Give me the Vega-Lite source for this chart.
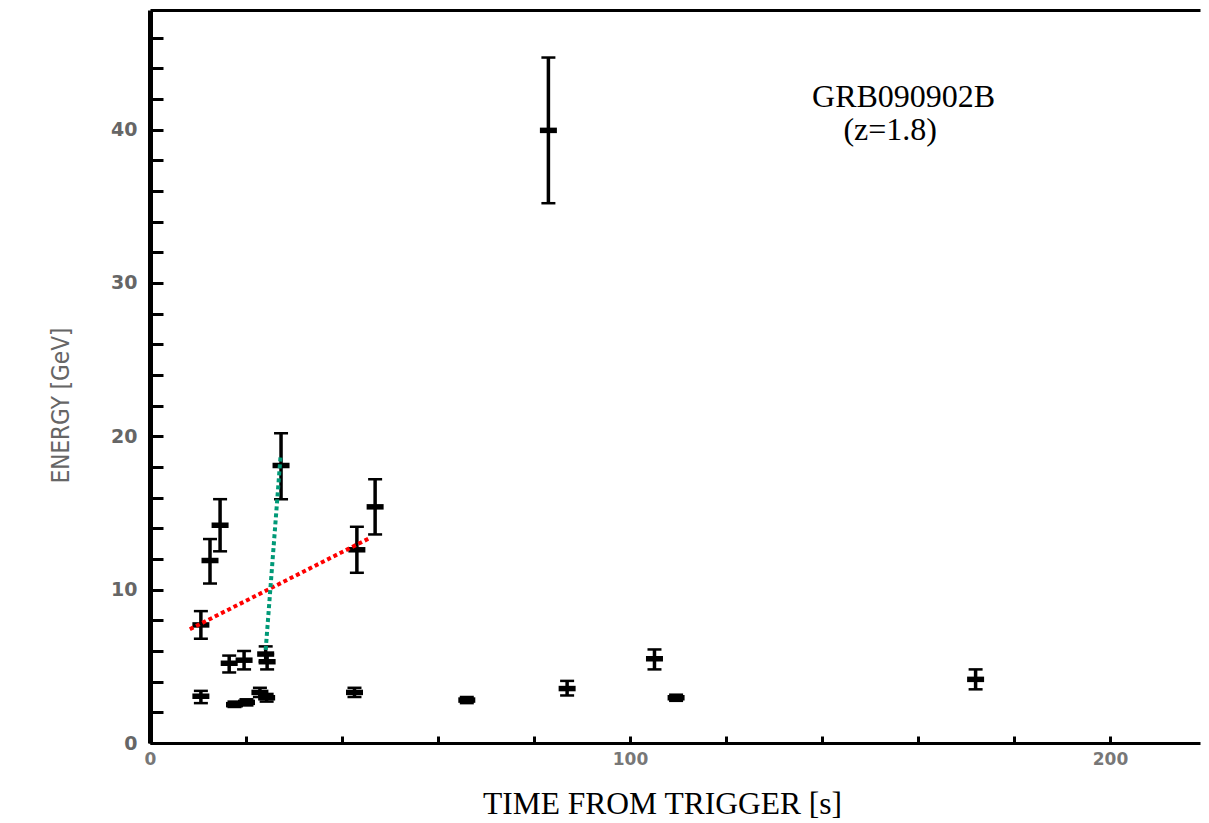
{
  "$schema": "https://vega.github.io/schema/vega-lite/v6.json",
  "width": 1050,
  "height": 733,
  "autosize": "none",
  "padding": {"left": 150, "top": 10, "right": 9, "bottom": 80},
  "background": "white",
  "config": {
    "view": {"stroke": null},
    "axisLeft": {
      "grid": false, "labelOverlap": false,
      "domainColor": "black", "domainWidth": 5,
      "tickColor": "black", "tickWidth": 3, "tickSize": -13,
      "labelFont": "DejaVu Sans", "labelFontSize": 19, "labelFontWeight": "bold", "labelColor": "#666",
      "labelPadding": 26,
      "titleFont": "DejaVu Sans Condensed, DejaVu Sans", "titleFontSize": 24, "titleFontWeight": "normal", "titleColor": "#666",
      "titleAngle": -90, "titleX": -89, "titleY": 395, "titleAlign": "center", "titleBaseline": "middle"
    },
    "axisBottom": {
      "grid": false, "labelOverlap": false,
      "domainColor": "black", "domainWidth": 3,
      "tickColor": "black", "tickWidth": 3, "tickSize": -7,
      "labelFont": "DejaVu Sans", "labelFontSize": 17, "labelFontWeight": "bold", "labelColor": "#777",
      "labelPadding": 15, "labelFlush": false,
      "titleFont": "Liberation Serif", "titleFontSize": 31.5, "titleFontWeight": "normal", "titleColor": "black",
      "titleX": 512, "titleY": 70, "titleAlign": "center", "titleBaseline": "alphabetic"
    },
    "axisTop": {
      "grid": false, "labels": false, "ticks": false,
      "domainColor": "black", "domainWidth": 3
    }
  },
  "datasets": {
    "pts": [
      {"t": 10.6, "e": 7.7, "lo": 6.8, "hi": 8.6},
      {"t": 12.5, "e": 11.9, "lo": 10.4, "hi": 13.3},
      {"t": 14.6, "e": 14.2, "lo": 12.5, "hi": 15.9},
      {"t": 27.3, "e": 18.1, "lo": 15.9, "hi": 20.2},
      {"t": 43.1, "e": 12.6, "lo": 11.1, "hi": 14.1},
      {"t": 46.9, "e": 15.4, "lo": 13.6, "hi": 17.2},
      {"t": 16.5, "e": 5.2, "lo": 4.6, "hi": 5.7},
      {"t": 19.6, "e": 5.4, "lo": 4.8, "hi": 6.0},
      {"t": 24.1, "e": 5.8, "lo": 5.3, "hi": 6.3},
      {"t": 24.4, "e": 5.3, "lo": 4.8, "hi": 5.8},
      {"t": 10.6, "e": 3.05, "lo": 2.6, "hi": 3.4},
      {"t": 17.6, "e": 2.5, "lo": 2.35, "hi": 2.7},
      {"t": 20.1, "e": 2.65, "lo": 2.45, "hi": 2.85},
      {"t": 22.9, "e": 3.3, "lo": 3.0, "hi": 3.6},
      {"t": 24.3, "e": 2.95, "lo": 2.7, "hi": 3.2},
      {"t": 42.6, "e": 3.3, "lo": 3.0, "hi": 3.6},
      {"t": 66.0, "e": 2.8, "lo": 2.6, "hi": 3.0},
      {"t": 86.9, "e": 3.55, "lo": 3.1, "hi": 4.05},
      {"t": 105.1, "e": 5.5, "lo": 4.8, "hi": 6.1},
      {"t": 109.6, "e": 2.95, "lo": 2.75, "hi": 3.15},
      {"t": 172.0, "e": 4.15, "lo": 3.5, "hi": 4.8},
      {"t": 83.0, "e": 39.95, "lo": 35.2, "hi": 44.7}
    ],
    "lines": [
      {"name": "red", "t": 8.3, "e": 7.42},
      {"name": "red", "t": 46.0, "e": 13.4},
      {"name": "green", "t": 27.2, "e": 18.7},
      {"name": "green", "t": 24.1, "e": 6.07}
    ],
    "notes": [
      {"x": 157, "y": 41.5, "text": "GRB090902B"},
      {"x": 154.2, "y": 39.3, "text": "(z=1.8)"}
    ]
  },
  "layer": [
    {
      "layer": [
        {
          "data": {"name": "pts"},
          "mark": {"type": "rule", "color": "black", "strokeWidth": 3.5},
          "encoding": {
            "x": {
              "field": "t", "type": "quantitative",
              "scale": {"domain": [0, 218.75], "nice": false, "zero": false},
              "axis": {"orient": "bottom", "values": [0, 20, 40, 60, 80, 100, 120, 140, 160, 180, 200], "labelExpr": "datum.value % 100 === 0 ? datum.label : ''", "title": "TIME FROM TRIGGER [s]"}
            },
            "y": {
              "field": "lo", "type": "quantitative",
              "scale": {"domain": [0, 47.8], "nice": false, "zero": false},
              "axis": {"values": [0, 2, 4, 6, 8, 10, 12, 14, 16, 18, 20, 22, 24, 26, 28, 30, 32, 34, 36, 38, 40, 42, 44, 46], "labelExpr": "datum.value % 10 === 0 ? datum.label : ''", "title": "ENERGY [GeV]"}
            },
            "y2": {"field": "hi"}
          }
        },
        {
          "data": {"name": "pts"},
          "mark": {"type": "tick", "orient": "horizontal", "color": "black", "size": 14, "thickness": 2.5, "opacity": 1},
          "encoding": {
            "x": {"field": "t", "type": "quantitative",
              "axis": {"orient": "bottom", "values": [0, 20, 40, 60, 80, 100, 120, 140, 160, 180, 200], "labelExpr": "datum.value % 100 === 0 ? datum.label : ''", "title": "TIME FROM TRIGGER [s]"}},
            "y": {"field": "hi", "type": "quantitative",
              "axis": {"values": [0, 2, 4, 6, 8, 10, 12, 14, 16, 18, 20, 22, 24, 26, 28, 30, 32, 34, 36, 38, 40, 42, 44, 46], "labelExpr": "datum.value % 10 === 0 ? datum.label : ''", "title": "ENERGY [GeV]"}}
          }
        },
        {
          "data": {"name": "pts"},
          "mark": {"type": "tick", "orient": "horizontal", "color": "black", "size": 14, "thickness": 2.5, "opacity": 1},
          "encoding": {
            "x": {"field": "t", "type": "quantitative",
              "axis": {"orient": "bottom", "values": [0, 20, 40, 60, 80, 100, 120, 140, 160, 180, 200], "labelExpr": "datum.value % 100 === 0 ? datum.label : ''", "title": "TIME FROM TRIGGER [s]"}},
            "y": {"field": "lo", "type": "quantitative",
              "axis": {"values": [0, 2, 4, 6, 8, 10, 12, 14, 16, 18, 20, 22, 24, 26, 28, 30, 32, 34, 36, 38, 40, 42, 44, 46], "labelExpr": "datum.value % 10 === 0 ? datum.label : ''", "title": "ENERGY [GeV]"}}
          }
        },
        {
          "data": {"name": "pts"},
          "mark": {"type": "tick", "orient": "horizontal", "color": "black", "size": 17, "thickness": 5.5, "opacity": 1},
          "encoding": {
            "x": {"field": "t", "type": "quantitative",
              "axis": {"orient": "bottom", "values": [0, 20, 40, 60, 80, 100, 120, 140, 160, 180, 200], "labelExpr": "datum.value % 100 === 0 ? datum.label : ''", "title": "TIME FROM TRIGGER [s]"}},
            "y": {"field": "e", "type": "quantitative",
              "axis": {"values": [0, 2, 4, 6, 8, 10, 12, 14, 16, 18, 20, 22, 24, 26, 28, 30, 32, 34, 36, 38, 40, 42, 44, 46], "labelExpr": "datum.value % 10 === 0 ? datum.label : ''", "title": "ENERGY [GeV]"}}
          }
        },
        {
          "data": {"name": "lines"},
          "mark": {"type": "line", "strokeWidth": 4, "strokeDash": [4, 3], "strokeCap": "butt"},
          "encoding": {
            "x": {"field": "t", "type": "quantitative",
              "axis": {"orient": "bottom", "values": [0, 20, 40, 60, 80, 100, 120, 140, 160, 180, 200], "labelExpr": "datum.value % 100 === 0 ? datum.label : ''", "title": "TIME FROM TRIGGER [s]"}},
            "y": {"field": "e", "type": "quantitative",
              "axis": {"values": [0, 2, 4, 6, 8, 10, 12, 14, 16, 18, 20, 22, 24, 26, 28, 30, 32, 34, 36, 38, 40, 42, 44, 46], "labelExpr": "datum.value % 10 === 0 ? datum.label : ''", "title": "ENERGY [GeV]"}},
            "color": {
              "field": "name", "type": "nominal",
              "scale": {"domain": ["red", "green"], "range": ["#ff0000", "#009977"]},
              "legend": null
            },
            "detail": {"field": "name"}
          }
        }
      ]
    },
    {
      "data": {"name": "notes"},
      "mark": {"type": "text", "font": "Liberation Serif", "fontSize": 32, "color": "black", "align": "center", "baseline": "alphabetic"},
      "encoding": {
        "x": {
          "field": "x", "type": "quantitative",
          "axis": {"orient": "top", "title": null}
        },
        "y": {"field": "y", "type": "quantitative",
          "axis": {"values": [0, 2, 4, 6, 8, 10, 12, 14, 16, 18, 20, 22, 24, 26, 28, 30, 32, 34, 36, 38, 40, 42, 44, 46], "labelExpr": "datum.value % 10 === 0 ? datum.label : ''", "title": "ENERGY [GeV]"}},
        "text": {"field": "text"}
      }
    }
  ],
  "resolve": {"axis": {"x": "independent"}}
}
